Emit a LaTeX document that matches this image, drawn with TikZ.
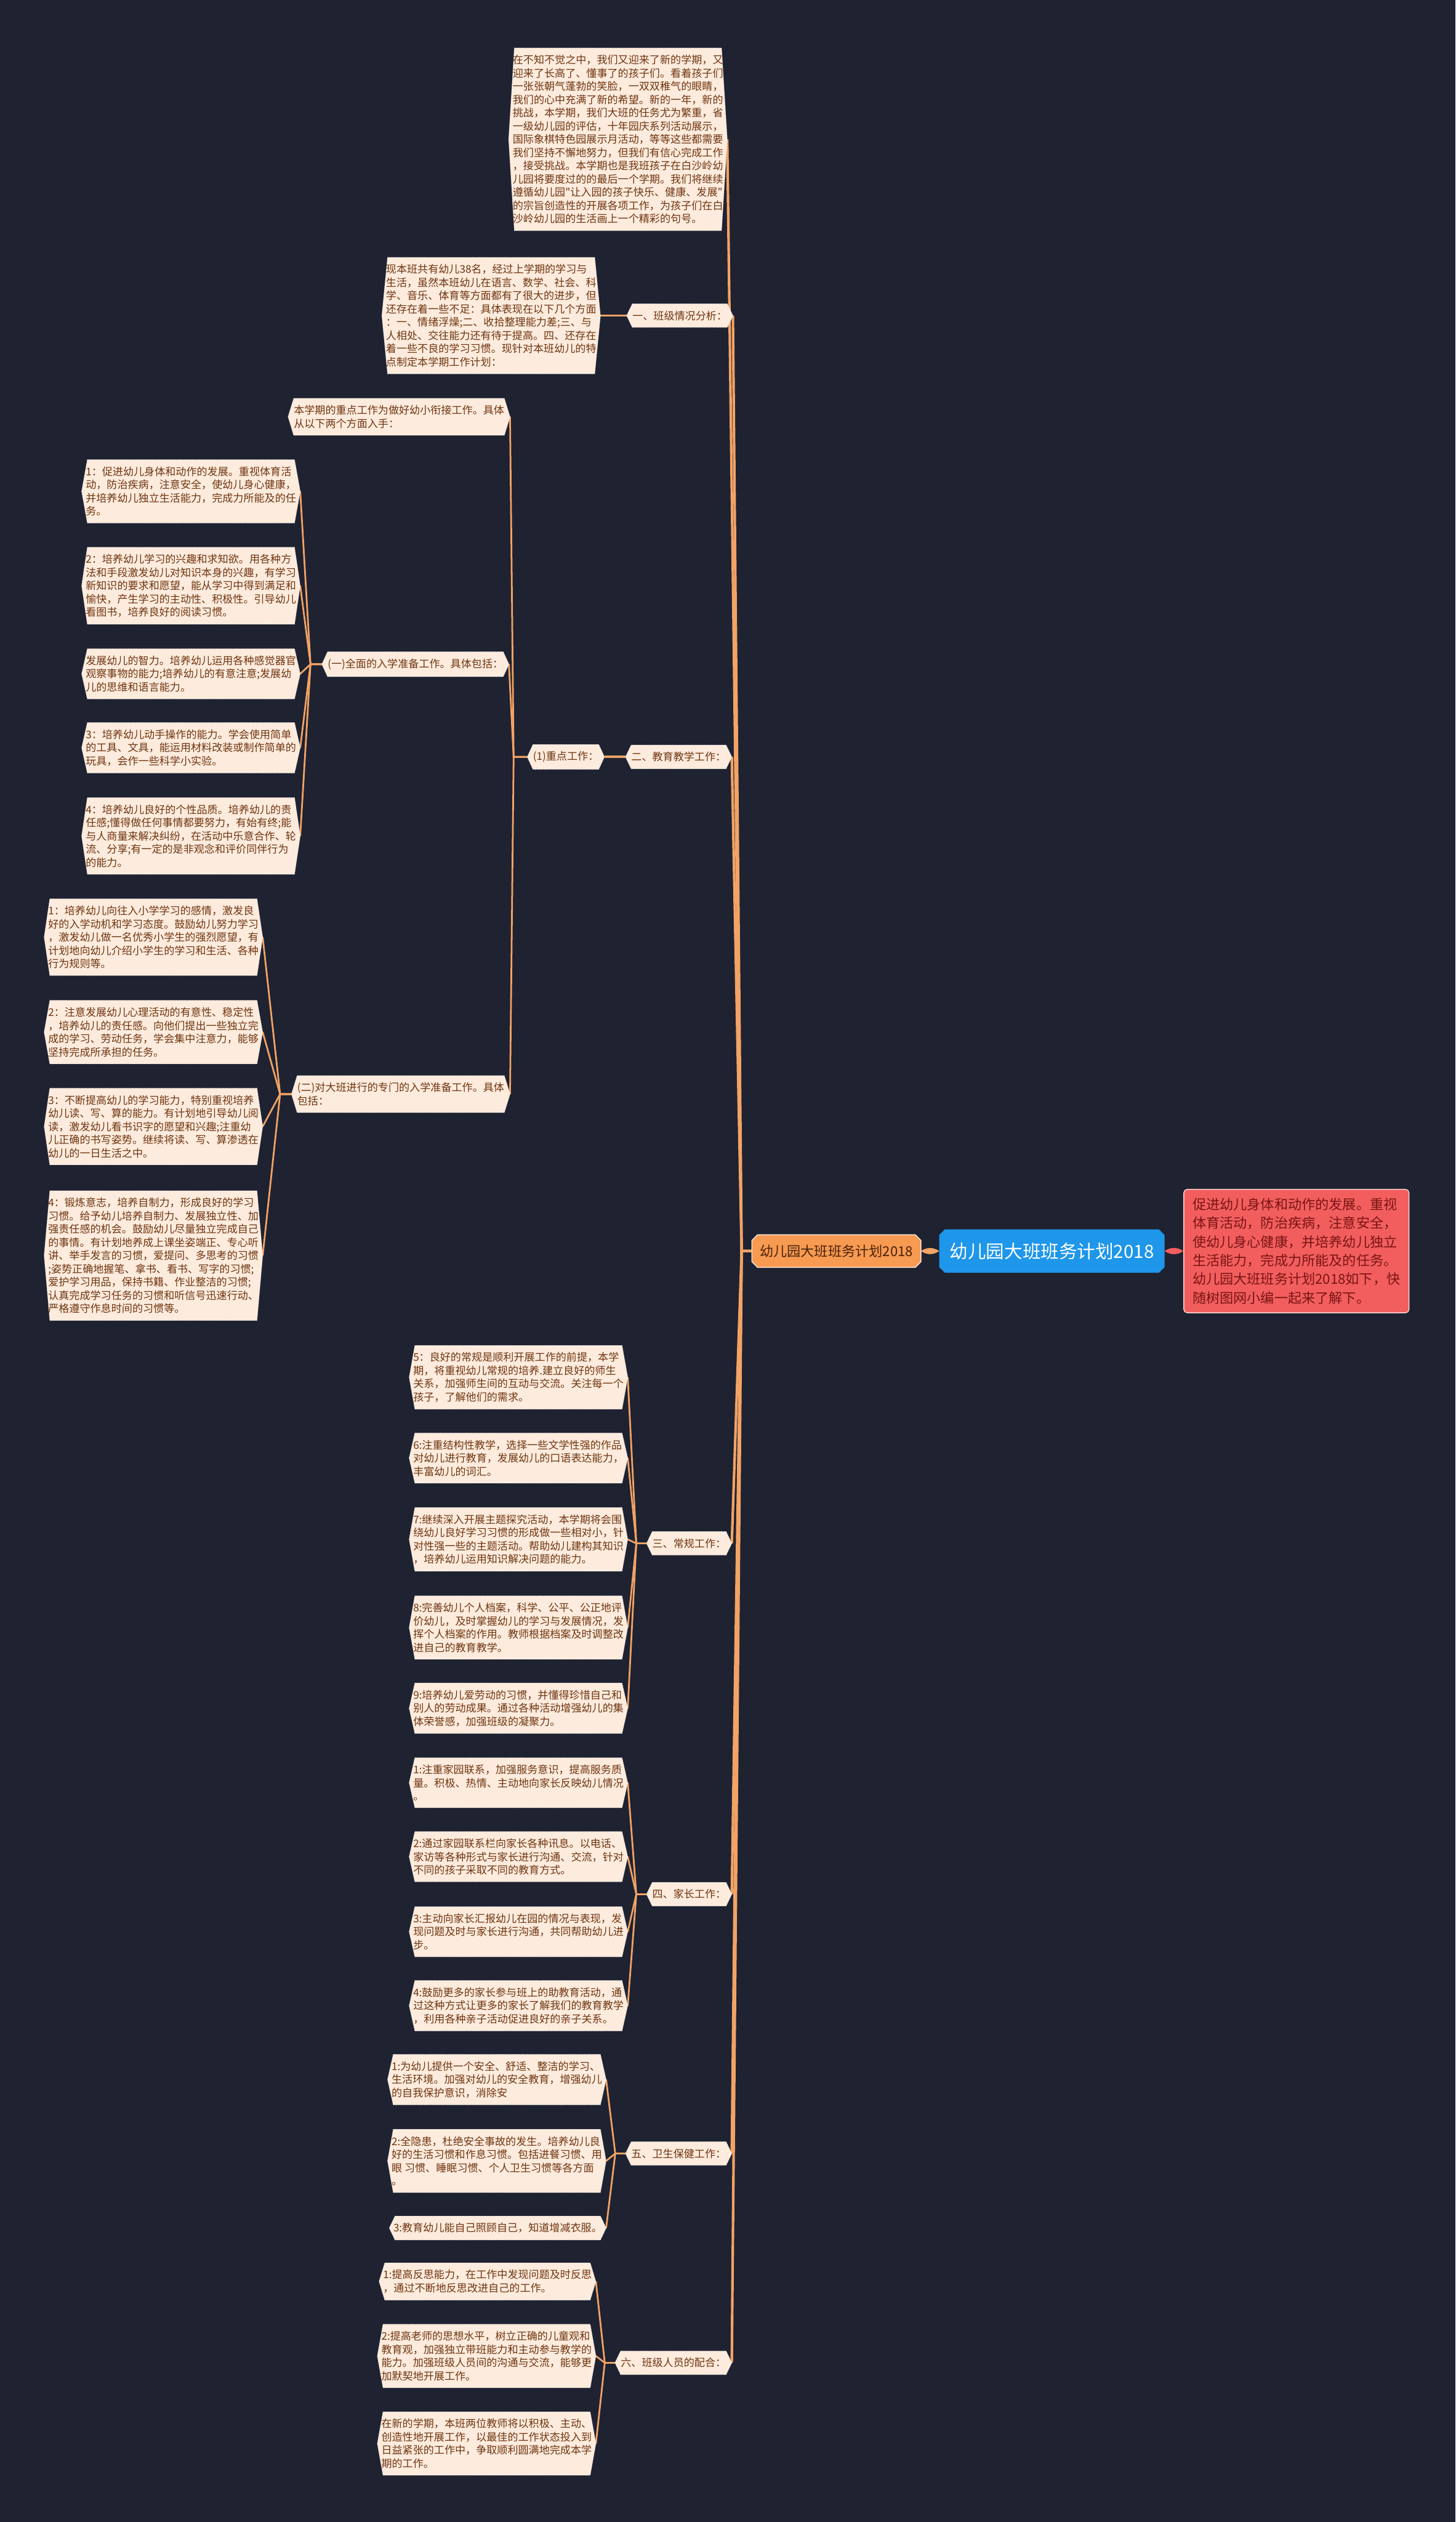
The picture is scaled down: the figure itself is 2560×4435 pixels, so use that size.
\documentclass[tikz,border=0pt]{standalone}
\usepackage{fontspec}
\newfontfamily\cjk{Noto Sans CJK SC}
\usetikzlibrary{backgrounds}
\definecolor{bgcol}{HTML}{1F2230}
\definecolor{leaffill}{HTML}{FDEBDD}
\definecolor{leaftext}{HTML}{6E3510}
\definecolor{linecol}{HTML}{F2A365}
\definecolor{rootblue}{HTML}{1E96EA}
\definecolor{suborange}{HTML}{F79A52}
\definecolor{subtext}{HTML}{4A2208}
\definecolor{notered}{HTML}{F25E5E}
\definecolor{notetext}{HTML}{7A1414}
\newcommand\leaffont{\cjk\fontsize{18.5}{23.3}\selectfont}
\tikzset{
  leaf/.style={anchor=east, align=left, inner xsep=7pt, inner ysep=12pt, text=leaftext, font=\leaffont},
  head/.style={leaf, inner xsep=10pt},
  leafbox/.style={fill=leaffill, draw=white, densely dotted, line width=0.8pt},
  link/.style={draw=linecol, line width=3pt},
  trunk/.style={draw=linecol, line width=4.5pt},
  root/.style={text=white, font=\cjk\fontsize{32}{38}\selectfont, minimum width=396pt, minimum height=76pt, inner sep=0pt},
  sub/.style={text=subtext, font=\cjk\fontsize{24}{29}\selectfont, minimum width=297pt, minimum height=57pt, inner sep=0pt},
  note/.style={fill=notered, draw=white!75!notered, line width=1.5pt, rounded corners=6pt, align=left, text=notetext,
    font=\cjk\fontsize{24}{33}\selectfont, inner xsep=14pt, minimum width=396pt, minimum height=217pt},
}
\begin{document}
\begin{tikzpicture}[x=1pt,y=-1pt]
\useasboundingbox (0,0) rectangle (2560,4435);

% centre
\node[root] (root) at (1850,2200) {幼儿园大班班务计划2018};
\node[sub] (sub) at (1471,2200) {幼儿园大班班务计划2018};
\node[note] (note) at (2280,2200) {促进幼儿身体和动作的发展。重视\\体育活动，防治疾病，注意安全，\\使幼儿身心健康，并培养幼儿独立\\生活能力，完成力所能及的任务。\\幼儿园大班班务计划2018如下，快\\随树图网小编一起来了解下。};

% intro and class analysis
\node[leaf] (intro) at (1279,245) {在不知不觉之中，我们又迎来了新的学期，又\\迎来了长高了、懂事了的孩子们。看着孩子们\\一张张朝气蓬勃的笑脸，一双双稚气的眼睛，\\我们的心中充满了新的希望。新的一年，新的\\挑战，本学期，我们大班的任务尤为繁重，省\\一级幼儿园的评估，十年园庆系列活动展示，\\国际象棋特色园展示月活动，等等这些都需要\\我们坚持不懈地努力，但我们有信心完成工作\\，接受挑战。本学期也是我班孩子在白沙岭幼\\儿园将要度过的的最后一个学期。我们将继续\\遵循幼儿园"让入园的孩子快乐、健康、发展"\\的宗旨创造性的开展各项工作，为孩子们在白\\沙岭幼儿园的生活画上一个精彩的句号。};
\node[head] (n1) at (1289,555) {一、班级情况分析：};
\node[leaf] (cls) at (1056,555) {现本班共有幼儿38名，经过上学期的学习与\\生活，虽然本班幼儿在语言、数学、社会、科\\学、音乐、体育等方面都有了很大的进步，但\\还存在着一些不足：具体表现在以下几个方面\\：一、情绪浮燥;二、收拾整理能力差;三、与\\人相处、交往能力还有待于提高。四、还存在\\着一些不良的学习习惯。现针对本班幼儿的特\\点制定本学期工作计划：};

% teaching
\node[head] (n2) at (1287,1331) {二、教育教学工作：};
\node[head] (k1) at (1063,1331) {(1)重点工作：};
\node[head] (focus) at (897,733) {本学期的重点工作为做好幼小衔接工作。具体\\从以下两个方面入手：};
\node[head] (s1) at (895,1168) {(一)全面的入学准备工作。具体包括：};
\node[head] (s2) at (897,1924) {(二)对大班进行的专门的入学准备工作。具体\\包括：};

\node[leaf] (a1) at (528,864) {1：促进幼儿身体和动作的发展。重视体育活\\动，防治疾病，注意安全，使幼儿身心健康，\\并培养幼儿独立生活能力，完成力所能及的任\\务。};
\node[leaf] (a2) at (528,1030) {2：培养幼儿学习的兴趣和求知欲。用各种方\\法和手段激发幼儿对知识本身的兴趣，有学习\\新知识的要求和愿望，能从学习中得到满足和\\愉快，产生学习的主动性、积极性。引导幼儿\\看图书，培养良好的阅读习惯。};
\node[leaf] (a3) at (528,1185) {发展幼儿的智力。培养幼儿运用各种感觉器官\\观察事物的能力;培养幼儿的有意注意;发展幼\\儿的思维和语言能力。};
\node[leaf] (a4) at (528,1315) {3：培养幼儿动手操作的能力。学会使用简单\\的工具、文具，能运用材料改装或制作简单的\\玩具，会作一些科学小实验。};
\node[leaf] (a5) at (528,1470) {4：培养幼儿良好的个性品质。培养幼儿的责\\任感;懂得做任何事情都要努力，有始有终;能\\与人商量来解决纠纷，在活动中乐意合作、轮\\流、分享;有一定的是非观念和评价同伴行为\\的能力。};

\node[leaf] (b1) at (462,1648) {1：培养幼儿向往入小学学习的感情，激发良\\好的入学动机和学习态度。鼓励幼儿努力学习\\，激发幼儿做一名优秀小学生的强烈愿望，有\\计划地向幼儿介绍小学生的学习和生活、各种\\行为规则等。};
\node[leaf] (b2) at (462,1815) {2：注意发展幼儿心理活动的有意性、稳定性\\，培养幼儿的责任感。向他们提出一些独立完\\成的学习、劳动任务，学会集中注意力，能够\\坚持完成所承担的任务。};
\node[leaf] (b3) at (462,1981) {3：不断提高幼儿的学习能力，特别重视培养\\幼儿读、写、算的能力。有计划地引导幼儿阅\\读，激发幼儿看书识字的愿望和兴趣;注重幼\\儿正确的书写姿势。继续将读、写、算渗透在\\幼儿的一日生活之中。};
\node[leaf] (b4) at (462,2208) {4：锻炼意志，培养自制力，形成良好的学习\\习惯。给予幼儿培养自制力、发展独立性、加\\强责任感的机会。鼓励幼儿尽量独立完成自己\\的事情。有计划地养成上课坐姿端正、专心听\\讲、举手发言的习惯，爱提问、多思考的习惯\\;姿势正确地握笔、拿书、看书、写字的习惯;\\爱护学习用品，保持书籍、作业整洁的习惯;\\认真完成学习任务的习惯和听信号迅速行动、\\严格遵守作息时间的习惯等。};

% routine
\node[head] (n3) at (1287,2714) {三、常规工作：};
\node[leaf] (c5) at (1104,2422) {5：良好的常规是顺利开展工作的前提，本学\\期，将重视幼儿常规的培养.建立良好的师生\\关系，加强师生间的互动与交流。关注每一个\\孩子，了解他们的需求。};
\node[leaf] (c6) at (1104,2564) {6:注重结构性教学，选择一些文学性强的作品\\对幼儿进行教育，发展幼儿的口语表达能力，\\丰富幼儿的词汇。};
\node[leaf] (c7) at (1104,2707) {7:继续深入开展主题探究活动，本学期将会围\\绕幼儿良好学习习惯的形成做一些相对小，针\\对性强一些的主题活动。帮助幼儿建构其知识\\，培养幼儿运用知识解决问题的能力。};
\node[leaf] (c8) at (1104,2862) {8:完善幼儿个人档案，科学、公平、公正地评\\价幼儿，及时掌握幼儿的学习与发展情况，发\\挥个人档案的作用。教师根据档案及时调整改\\进自己的教育教学。};
\node[leaf] (c9) at (1104,3004) {9:培养幼儿爱劳动的习惯，并懂得珍惜自己和\\别人的劳动成果。通过各种活动增强幼儿的集\\体荣誉感，加强班级的凝聚力。};

% parents
\node[head] (n4) at (1287,3331) {四、家长工作：};
\node[leaf] (d1) at (1104,3135) {1:注重家园联系，加强服务意识，提高服务质\\量。积极、热情、主动地向家长反映幼儿情况\\。};
\node[leaf] (d2) at (1104,3265) {2:通过家园联系栏向家长各种讯息。以电话、\\家访等各种形式与家长进行沟通、交流，针对\\不同的孩子采取不同的教育方式。};
\node[leaf] (d3) at (1104,3397) {3:主动向家长汇报幼儿在园的情况与表现，发\\现问题及时与家长进行沟通，共同帮助幼儿进\\步。};
\node[leaf] (d4) at (1104,3527) {4:鼓励更多的家长参与班上的助教育活动，通\\过这种方式让更多的家长了解我们的教育教学\\，利用各种亲子活动促进良好的亲子关系。};

% health
\node[head] (n5) at (1287,3787) {五、卫生保健工作：};
\node[leaf] (e1) at (1066,3657) {1:为幼儿提供一个安全、舒适、整洁的学习、\\生活环境。加强对幼儿的安全教育，增强幼儿\\的自我保护意识，消除安};
\node[leaf] (e2) at (1066,3800) {2:全隐患，杜绝安全事故的发生。培养幼儿良\\好的生活习惯和作息习惯。包括进餐习惯、用\\眼 习惯、睡眠习惯、个人卫生习惯等各方面\\。};
\node[leaf] (e3) at (1066,3918) {3:教育幼儿能自己照顾自己，知道增减衣服。};

% staff
\node[head] (n6) at (1287,4155) {六、班级人员的配合：};
\node[leaf] (f1) at (1048,4012) {1:提高反思能力，在工作中发现问题及时反思\\，通过不断地反思改进自己的工作。};
\node[leaf] (f2) at (1048,4143) {2:提高老师的思想水平，树立正确的儿童观和\\教育观，加强独立带班能力和主动参与教学的\\能力。加强班级人员间的沟通与交流，能够更\\加默契地开展工作。};
\node[leaf] (f3) at (1048,4297) {在新的学期，本班两位教师将以积极、主动、\\创造性地开展工作，以最佳的工作状态投入到\\日益紧张的工作中，争取顺利圆满地完成本学\\期的工作。};

\begin{scope}[on background layer]
\fill[bgcol] (0,0) rectangle (2560,4435);
% connectors
\fill[linecol] (sub.east) to[bend left=35] (root.west) to[bend left=35] (sub.east);
\fill[notered] (root.east) to[bend left=35] (note.west) to[bend left=35] (root.east);
\foreach \c in {intro,n1,n2,n3,n4,n5,n6}
  \draw[trunk] (sub.west) -- ++(-18,0) -- (\c.east);
\draw[link] (n1.west) -- (cls.east);
\draw[trunk] (n2.west) -- (k1.east);
\foreach \c in {focus,s1,s2}
  \draw[link] (k1.west) -- ++(-24,0) -- (\c.east);
\foreach \c in {a1,a2,a3,a4,a5}
  \draw[link] (s1.west) -- ++(-20,0) -- (\c.east);
\foreach \c in {b1,b2,b3,b4}
  \draw[link] (s2.west) -- ++(-20,0) -- (\c.east);
\foreach \c in {c5,c6,c7,c8,c9}
  \draw[link] (n3.west) -- ++(-18,0) -- (\c.east);
\foreach \c in {d1,d2,d3,d4}
  \draw[link] (n4.west) -- ++(-18,0) -- (\c.east);
\foreach \c in {e1,e2,e3}
  \draw[link] (n5.west) -- ++(-18,0) -- (\c.east);
\foreach \c in {f1,f2,f3}
  \draw[link] (n6.west) -- ++(-18,0) -- (\c.east);
% boxes
\foreach \n in {intro,cls,n1,n2,k1,focus,s1,s2,a1,a2,a3,a4,a5,b1,b2,b3,b4,n3,c5,c6,c7,c8,c9,n4,d1,d2,d3,d4,n5,e1,e2,e3,n6,f1,f2,f3}
  \filldraw[leafbox] (\n.west) -- ([xshift=10pt]\n.north west) -- ([xshift=-10pt]\n.north east) -- (\n.east)
    -- ([xshift=-10pt]\n.south east) -- ([xshift=10pt]\n.south west) -- cycle;
\filldraw[fill=suborange, draw=white!80!suborange, line width=1.5pt]
  ([xshift=10pt]sub.north west) -- ([xshift=-10pt]sub.north east) -- ([yshift=-10pt]sub.north east) -- ([yshift=10pt]sub.south east)
  -- ([xshift=-10pt]sub.south east) -- ([xshift=10pt]sub.south west) -- ([yshift=10pt]sub.south west) -- ([yshift=-10pt]sub.north west) -- cycle;
\fill[rootblue]
  ([xshift=10pt]root.north west) -- ([xshift=-10pt]root.north east) -- ([yshift=-10pt]root.north east) -- ([yshift=10pt]root.south east)
  -- ([xshift=-10pt]root.south east) -- ([xshift=10pt]root.south west) -- ([yshift=10pt]root.south west) -- ([yshift=-10pt]root.north west) -- cycle;
\end{scope}
\end{tikzpicture}
\end{document}
